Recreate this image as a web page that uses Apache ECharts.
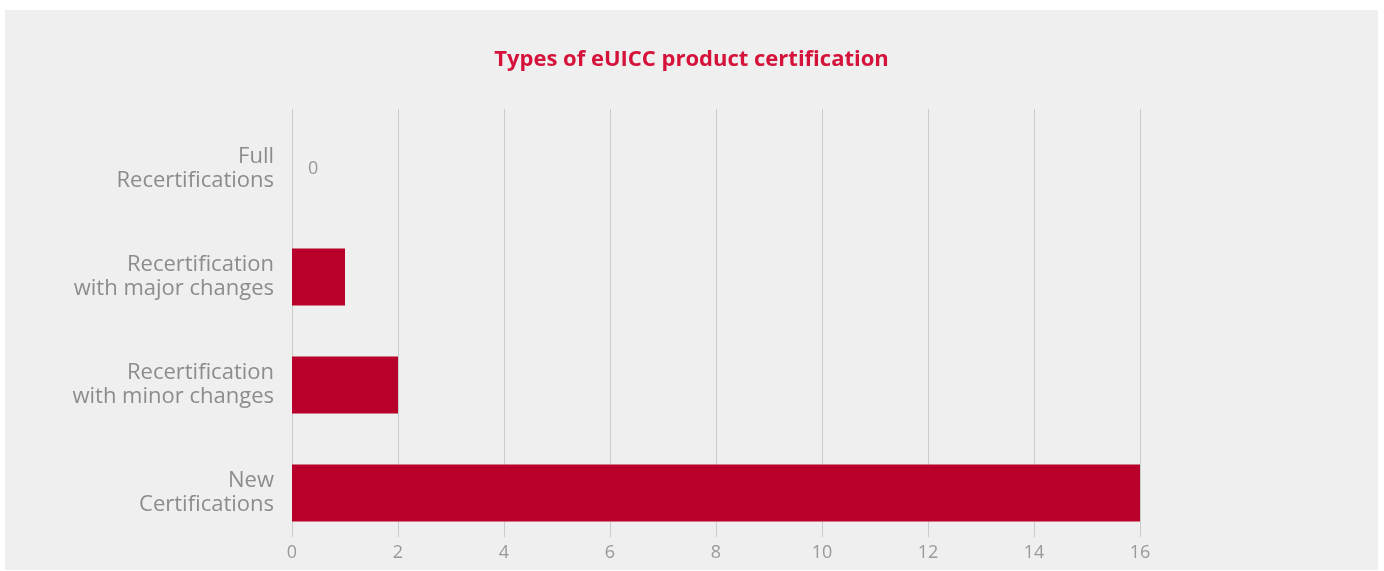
<!DOCTYPE html>
<html lang="en">
<head>
    <meta charset="utf-8" />
    <title>Types of eUICC product certification</title>
    <style>
        html,
        body {
            width: 100%;
            height: 100%;
            margin: 0;
            background: #ffffff;
        }

        #main {
            position: absolute;
            left: 5px;
            top: 10px;
            width: 1373px;
            height: 560px;
            background: #efefef;
        }
    </style>
</head>
<body>
    <div id="main"></div>
    <script src="https://cdn.jsdelivr.net/npm/echarts@6/dist/echarts.min.js"></script>
    <script type="text/javascript">
        var categories = ['New\nCertifications', 'Recertification\nwith minor changes', 'Recertification\nwith major changes', 'Full\nRecertifications'];
        var counts = [16, 2, 1, 0];
        var xTicks = [0, 2, 4, 6, 8, 10, 12, 14, 16];

        var chart = echarts.init(document.getElementById('main'));

        var option = {
            backgroundColor: '#efefef',
            textStyle: { fontFamily: 'Open Sans' },
            title: {
                text: 'Types of eUICC product certification',
                left: 'center',
                top: 34,
                textStyle: {
                    color: '#d5123a',
                    fontSize: 22,
                    fontWeight: 'bold',
                    fontFamily: 'Open Sans'
                }
            },
            grid: [{
                left: 287,
                top: 105,
                width: 848,
                height: 432
            }, {
                left: 287,
                top: 99,
                width: 848,
                height: 428
            }],
            xAxis: [{
                type: 'value',
                gridIndex: 0,
                min: 0,
                max: 16,
                interval: 2,
                show: false
            }, {
                type: 'value',
                gridIndex: 1,
                min: xTicks[0],
                max: xTicks[xTicks.length - 1],
                interval: 2,
                axisLine: { show: false },
                axisTick: { show: false },
                axisLabel: {
                    color: '#999999',
                    fontSize: 18,
                    margin: 7,
                    formatter: function (v) { return xTicks.indexOf(v) >= 0 ? String(v) : ''; }
                },
                splitLine: { lineStyle: { color: '#c8cccc', width: 1 } }
            }],
            yAxis: [{
                type: 'category',
                gridIndex: 0,
                data: categories,
                axisLine: { show: false },
                axisTick: { show: false },
                axisLabel: {
                    color: '#8c8c8c',
                    fontSize: 22,
                    lineHeight: 24,
                    margin: 18,
                    align: 'right'
                }
            }, {
                type: 'category',
                gridIndex: 1,
                data: categories,
                show: false
            }],
            series: [{
                type: 'bar',
                xAxisIndex: 0,
                yAxisIndex: 0,
                barWidth: 57,
                itemStyle: { color: '#b8002a' },
                data: counts.map(function (v) {
                    return {
                        value: v,
                        label: {
                            show: v === 0,
                            position: 'right',
                            distance: 16,
                            color: '#999999',
                            fontSize: 18
                        }
                    };
                })
            }]
        };

        chart.setOption(option);
    </script>
</body>
</html>
